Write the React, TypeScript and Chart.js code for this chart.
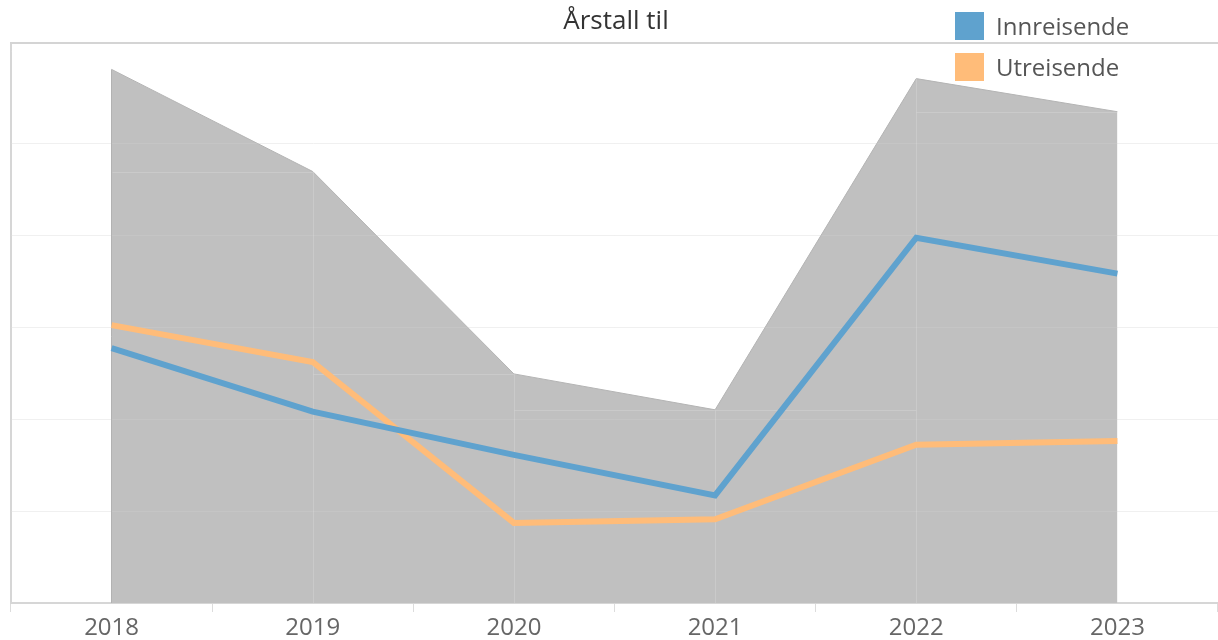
import React, { useEffect, useRef } from "react";
import { Chart, registerables } from "chart.js";

Chart.register(...registerables);

const years = ["2018", "2019", "2020", "2021", "2022", "2023"];
const innreisende = [2.77, 2.08, 1.61, 1.17, 3.97, 3.58];
const utreisende = [3.02, 2.62, 0.87, 0.91, 1.72, 1.76];
const totalt = [5.8, 4.69, 2.49, 2.1, 5.7, 5.34];
const titleText = "Årstall til";
const legendLabels = ["Innreisende", "Utreisende"];

const BLUE = "#5fa2ce";
const ORANGE = "#ffbc79";
const GREY = "#c0c0c0";
const FONT = "'Open Sans', 'Noto Sans', sans-serif";

const overlay = {
  id: "overlay",
  afterDatasetDraw(chart: any, args: any) {
    if (args.index !== 0) return;
    const { ctx, chartArea } = chart;
    const xs = chart.scales.x;
    const ys = chart.scales.y;
    const base = ys.getPixelForValue(0);
    ctx.save();
    ctx.lineWidth = 1;
    ctx.strokeStyle = "rgba(255,255,255,0.16)";
    for (let i = 0; i < totalt.length; i++) {
      const x = Math.round(xs.getPixelForValue(i)) + 0.5;
      if (i > 0 && i < totalt.length - 1) {
        ctx.beginPath();
        ctx.moveTo(x, base);
        ctx.lineTo(x, ys.getPixelForValue(totalt[i]));
        ctx.stroke();
      }
      if (i < totalt.length - 1) {
        const x2 = xs.getPixelForValue(i + 1);
        const yv = Math.round(ys.getPixelForValue(Math.min(totalt[i], totalt[i + 1]))) + 0.5;
        ctx.beginPath();
        ctx.moveTo(x, yv);
        ctx.lineTo(x2, yv);
        ctx.stroke();
      }
    }
    ctx.strokeStyle = "rgba(255,255,255,0.08)";
    for (let v = 1; v <= 6; v++) {
      const y = Math.round(ys.getPixelForValue(v)) + 0.5;
      ctx.beginPath();
      ctx.moveTo(chartArea.left, y);
      ctx.lineTo(chartArea.right, y);
      ctx.stroke();
    }
    ctx.strokeStyle = "#b2b2b2";
    const x0 = Math.round(xs.getPixelForValue(0)) - 0.5;
    ctx.beginPath();
    ctx.moveTo(x0, base);
    ctx.lineTo(x0, ys.getPixelForValue(totalt[0]));
    ctx.stroke();
    ctx.restore();
  },
  afterDraw(chart: any) {
    const { ctx, chartArea } = chart;
    ctx.save();
    ctx.strokeStyle = "#d4d4d4";
    ctx.lineWidth = 2;
    ctx.beginPath();
    ctx.moveTo(chartArea.left - 1, chartArea.top);
    ctx.lineTo(chartArea.right, chartArea.top);
    ctx.stroke();
    ctx.fillStyle = "#333333";
    ctx.font = `26px ${FONT}`;
    ctx.textAlign = "center";
    ctx.textBaseline = "middle";
    ctx.fillText(titleText, 616, 22);
    const colors = [BLUE, ORANGE];
    ctx.textAlign = "left";
    ctx.font = `24px ${FONT}`;
    legendLabels.forEach((lab, i) => {
      const y = 12 + i * 41;
      ctx.fillStyle = colors[i];
      ctx.fillRect(955, y, 29, 28);
      ctx.fillStyle = "#555555";
      ctx.fillText(lab, 996, y + 16);
    });
    ctx.restore();
  },
};

export default function App() {
  const ref = useRef<HTMLCanvasElement | null>(null);
  useEffect(() => {
    if (!ref.current) return;
    const chart = new Chart(ref.current, {
      type: "line",
      data: {
        labels: years,
        datasets: [
          {
            label: "Totalt",
            data: totalt,
            backgroundColor: GREY,
            borderColor: "#b4b4b4",
            borderWidth: 1,
            fill: "origin",
            pointRadius: 0,
            tension: 0,
            order: 3,
          },
          {
            label: legendLabels[1],
            data: utreisende,
            borderColor: ORANGE,
            borderWidth: 6,
            fill: false,
            pointRadius: 0,
            tension: 0,
            order: 2,
          },
          {
            label: legendLabels[0],
            data: innreisende,
            borderColor: BLUE,
            borderWidth: 6,
            fill: false,
            pointRadius: 0,
            tension: 0,
            order: 1,
          },
        ],
      },
      options: {
        animation: false,
        responsive: false,
        devicePixelRatio: 1,
        layout: { padding: { top: 43, left: 0, right: 0, bottom: 0 } },
        plugins: {
          legend: { display: false },
          title: { display: false },
          tooltip: { enabled: false },
        },
        scales: {
          x: {
            offset: true,
            grid: {
              offset: true,
              drawOnChartArea: false,
              drawTicks: true,
              tickLength: 9,
              color: "#dcdcdc",
            },
            border: { display: true, color: "#d6d6d6", width: 2 },
            ticks: {
              color: "#666666",
              font: { family: FONT, size: 24 },
              padding: 2,
              maxRotation: 0,
            },
            afterFit: (scale: any) => {
              scale.height = 37;
            },
          },
          y: {
            min: 0,
            max: 6.087,
            ticks: { display: false, stepSize: 1 },
            grid: {
              drawTicks: false,
              color: (c: any) => {
                const v = c.tick ? c.tick.value : 0;
                return v >= 1 && v <= 6 ? "#efefef" : "rgba(0,0,0,0)";
              },
              lineWidth: 1,
            },
            border: { display: true, color: "#d6d6d6", width: 2 },
            afterFit: (scale: any) => {
              scale.width = 11;
            },
          },
        },
      },
      plugins: [overlay],
    });
    return () => chart.destroy();
  }, []);
  return (
    <div style={{ position: "fixed", left: 0, top: 0, width: 1218, height: 640, background: "#fff" }}>
      <canvas ref={ref} width={1218} height={640} style={{ display: "block" }} />
    </div>
  );
}
